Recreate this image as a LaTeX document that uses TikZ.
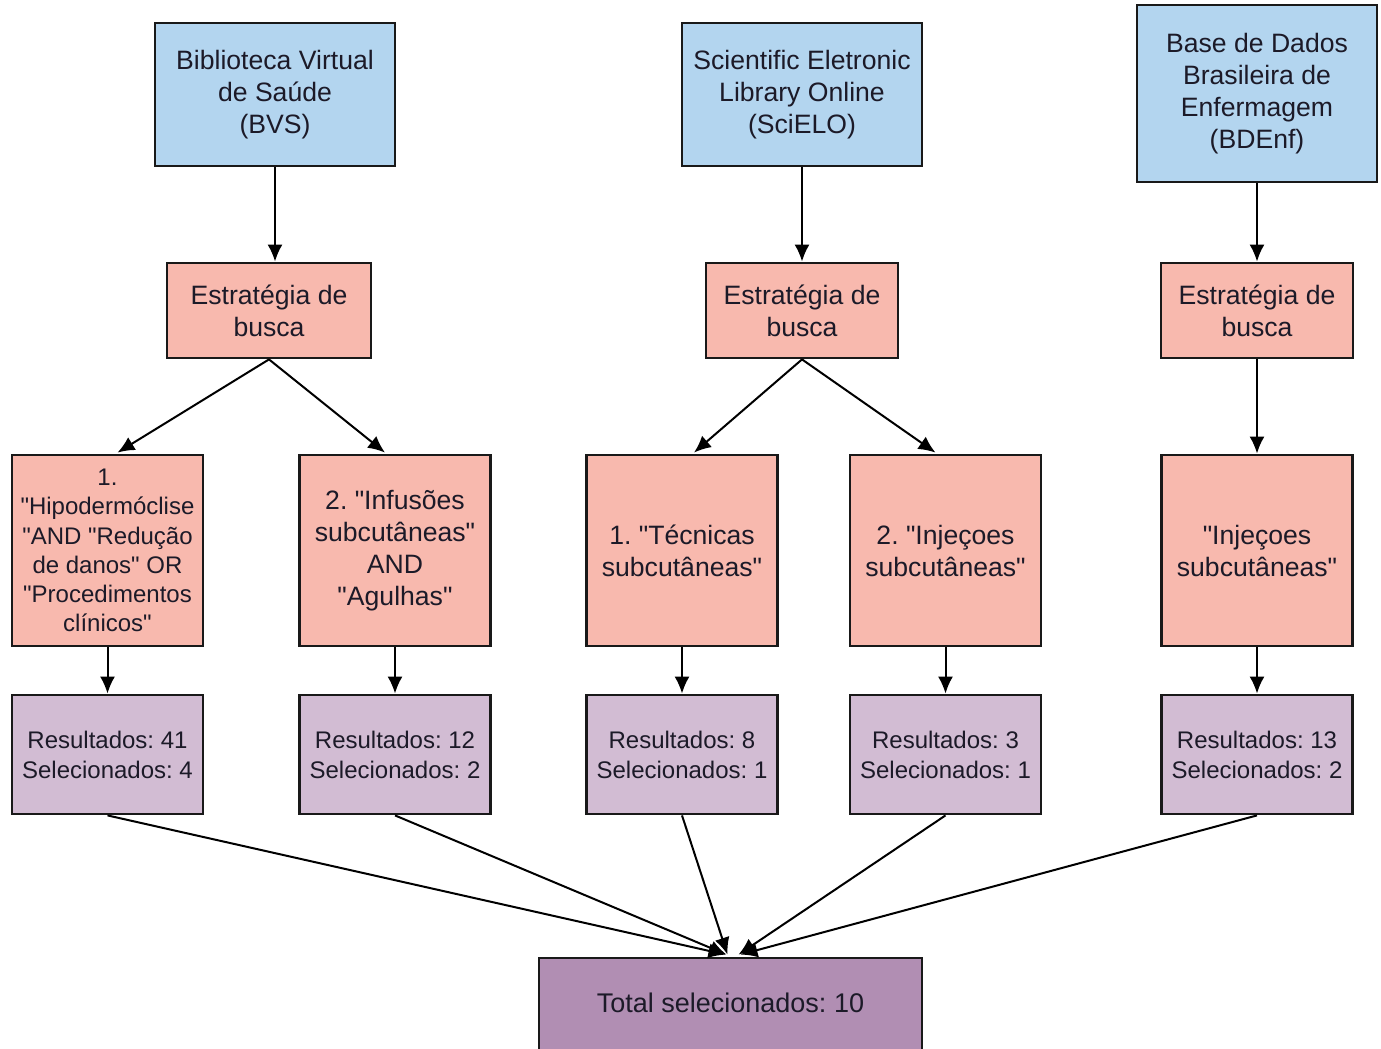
\documentclass[tikz,border=0pt]{standalone}
\usepackage{fontspec}
\setmainfont{Liberation Sans}
\usetikzlibrary{arrows.meta,calc}
\frenchspacing
\newcommand\dq{\textquotedbl}
\definecolor{dbblue}{HTML}{B3D5EF}
\definecolor{qpink}{HTML}{F8B9AE}
\definecolor{rpurple}{HTML}{D2BCD3}
\definecolor{tpurple}{HTML}{B18EB3}
\definecolor{txt}{HTML}{1C1A28}
\tikzset{
  box/.style={draw=black!90, line width=1.4pt, inner sep=2pt, align=center, text=txt},
  dbbox/.style={box, fill=dbblue, font=\fontsize{13.3}{16}\selectfont},
  qbox/.style={box, fill=qpink, font=\fontsize{13.3}{16}\selectfont},
  qsmall/.style={box, fill=qpink, font=\fontsize{12}{14.6}\selectfont},
  rbox/.style={box, fill=rpurple, font=\fontsize{12}{15}\selectfont},
  tbox/.style={box, fill=tpurple},
  arr/.style={line width=1pt, -{Latex[length=8.5pt,width=7.5pt]}},
}
\begin{document}
\begin{tikzpicture}[x=0.5pt,y=-0.5pt]
\useasboundingbox (0,0) rectangle (1381,1049);
% databases
\node[dbbox, minimum width=120pt, minimum height=71.5pt] (bvs) at (275,94.5) {Biblioteca Virtual\\de Saúde\\(BVS)};
\node[dbbox, minimum width=120pt, minimum height=71.5pt] (sci) at (802,94.5) {Scientific Eletronic\\Library Online\\(SciELO)};
\node[dbbox, minimum width=120pt, minimum height=88.5pt] (bde) at (1257,93.5) {Base de Dados\\Brasileira de\\Enfermagem\\(BDEnf)};
% strategies
\node[qbox, minimum width=102pt, minimum height=47.5pt] (e1) at (269,310.5) {Estratégia de\\busca};
\node[qbox, minimum width=96pt, minimum height=47.5pt] (e2) at (802,310.5) {Estratégia de\\busca};
\node[qbox, minimum width=96pt, minimum height=47.5pt] (e3) at (1257,310.5) {Estratégia de\\busca};
% queries
\node[qsmall, minimum width=95.5pt, minimum height=95.5pt] (q1) at (107.5,550.5) {1.\\\dq Hipodermóclise\\\dq AND \dq Redução\\de danos\dq\ OR\\\dq Procedimentos\\clínicos\dq};
\node[qbox, minimum width=95.5pt, minimum height=95.5pt] (q2) at (395,550.5) {2. \dq Infusões\\subcutâneas\dq\\AND\\\dq Agulhas\dq};
\node[qbox, minimum width=95.5pt, minimum height=95.5pt] (q3) at (682,550.5) {1. \dq Técnicas\\subcutâneas\dq};
\node[qbox, minimum width=95.5pt, minimum height=95.5pt] (q4) at (945.5,550.5) {2. \dq Injeçoes\\subcutâneas\dq};
\node[qbox, minimum width=95.5pt, minimum height=95.5pt] (q5) at (1257,550.5) {\dq Injeçoes\\subcutâneas\dq};
% results
\node[rbox, minimum width=95.5pt, minimum height=59.5pt] (r1) at (107.5,754.5) {Resultados: 41\\Selecionados: 4};
\node[rbox, minimum width=95.5pt, minimum height=59.5pt] (r2) at (395,754.5) {Resultados: 12\\Selecionados: 2};
\node[rbox, minimum width=95.5pt, minimum height=59.5pt] (r3) at (682,754.5) {Resultados: 8\\Selecionados: 1};
\node[rbox, minimum width=95.5pt, minimum height=59.5pt] (r4) at (945.5,754.5) {Resultados: 3\\Selecionados: 1};
\node[rbox, minimum width=95.5pt, minimum height=59.5pt] (r5) at (1257,754.5) {Resultados: 13\\Selecionados: 2};
% total
\node[tbox, minimum width=191.5pt, minimum height=70pt] (tot) at (730.5,1028) {};
\node[font=\fontsize{13.5}{16}\selectfont, text=txt] (totlbl) at (730.5,1003) {Total selecionados: 10};
% connectors
\draw[arr] (bvs.south) -- (e1.north -| bvs.south);
\draw[arr] (sci.south) -- (e2.north);
\draw[arr] (bde.south) -- (e3.north);
\draw[arr] (e1.south) -- ($(q1.north)+(10,-1)$);
\draw[arr] (e1.south) -- ($(q2.north)+(-10,-1)$);
\draw[arr] (e2.south) -- ($(q3.north)+(12,-1)$);
\draw[arr] (e2.south) -- ($(q4.north)+(-10,-1)$);
\draw[arr] (e3.south) -- (q5.north);
\draw[arr] (q1.south -| r1.north) -- (r1.north);
\draw[arr] (q2.south) -- (r2.north);
\draw[arr] (q3.south) -- (r3.north);
\draw[arr] (q4.south) -- (r4.north);
\draw[arr] (q5.south) -- (r5.north);
\draw[arr] (r1.south) -- ($(tot.north)+(-5,-2)$);
\draw[arr] (r2.south) -- ($(tot.north)+(-4,-2)$);
\draw[arr] (r3.south) -- ($(tot.north)+(-3,-2)$);
\draw[arr] (r4.south) -- ($(tot.north)+(8,-2)$);
\draw[arr] (r5.south) -- ($(tot.north)+(10,-2)$);
\end{tikzpicture}
\end{document}
